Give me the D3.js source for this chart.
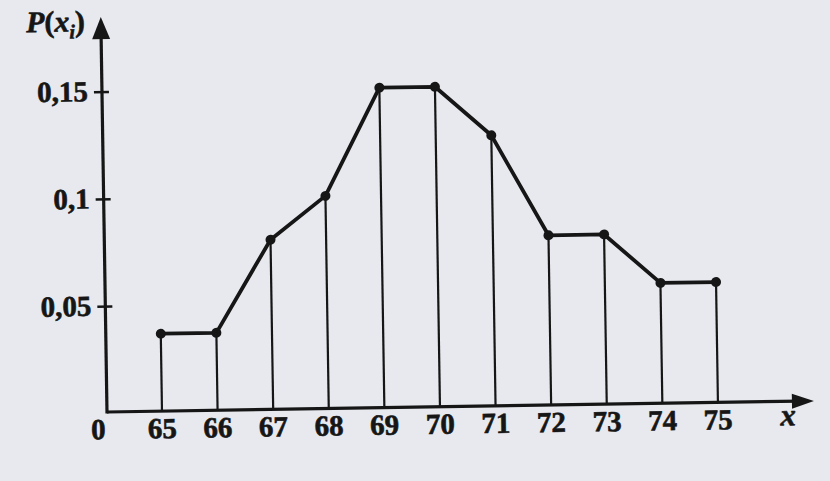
<!DOCTYPE html>
<html>
<head>
<meta charset="utf-8">
<script src="https://cdn.jsdelivr.net/npm/d3@7"></script>
<style>
  html, body { margin: 0; padding: 0; background: #e7e9ee; }
  svg { display: block; }
</style>
</head>
<body>
<svg id="chart" width="830" height="481"></svg>
<script>
// ---- data ----
const xValues = [65, 66, 67, 68, 69, 70, 71, 72, 73, 74, 75];
const pValues = [0.037, 0.037, 0.08, 0.1, 0.15, 0.15, 0.127, 0.08, 0.08, 0.057, 0.057];
const yTickValues = [0.05, 0.1, 0.15];
const yTickLabels = ["0,05", "0,1", "0,15"];
const xTickLabels = ["65", "66", "67", "68", "69", "70", "71", "72", "73", "74", "75"];

const W = 830, H = 481;
const ox = 107, oy = 412;         // origin of the axes
const ink = "#161616";
const font = "'Liberation Serif', 'Times New Roman', serif";

const svg = d3.select("#chart");
svg.append("rect").attr("width", W).attr("height", H).attr("fill", "#e7e9ee");

// the scanned figure is slightly rotated
const g = svg.append("g").attr("transform", `rotate(-0.9, ${ox}, ${oy})`);

const x = d3.scaleLinear().domain([65, 75]).range([162, 718]);
const y = d3.scaleLinear().domain([0, 0.15]).range([414, 92]);

// vertical lines from each point down to the axis
g.selectAll("line.drop").data(xValues).join("line")
  .attr("class", "drop")
  .attr("x1", d => x(d)).attr("x2", d => x(d))
  .attr("y1", (d, i) => y(pValues[i])).attr("y2", oy)
  .attr("stroke", ink).attr("stroke-width", 2.2);

// axes
g.append("line").attr("x1", ox).attr("x2", 800).attr("y1", oy).attr("y2", oy)
  .attr("stroke", ink).attr("stroke-width", 3.2);
g.append("path")
  .attr("d", `M${814},${oy} L${792},${oy - 7.5} L${792},${oy + 7.5} Z`)
  .attr("fill", ink);
g.append("line").attr("x1", ox).attr("x2", ox).attr("y1", oy + 1.6).attr("y2", 32)
  .attr("stroke", ink).attr("stroke-width", 3.2);
g.append("path")
  .attr("d", `M${ox},${17} L${ox - 9},${39} L${ox + 9},${39} Z`)
  .attr("fill", ink);

function styleText(sel, size) {
  return sel.attr("font-family", font).attr("font-weight", "bold")
    .attr("font-size", size).attr("fill", ink)
    .attr("stroke", ink).attr("stroke-width", 0.6);
}

// y ticks
const yt = g.selectAll("g.ytick").data(yTickValues).join("g").attr("class", "ytick");
yt.append("line")
  .attr("x1", ox - 8).attr("x2", ox + 7)
  .attr("y1", d => y(d)).attr("y2", d => y(d))
  .attr("stroke", ink).attr("stroke-width", 2.5);
styleText(yt.append("text"), 29)
  .attr("x", ox - 14).attr("y", d => y(d) + 9)
  .attr("text-anchor", "end")
  .text((d, i) => yTickLabels[i]);

// x tick labels
styleText(g.selectAll("text.xtick").data(xValues).join("text"), 29)
  .attr("class", "xtick")
  .attr("x", d => x(d)).attr("y", 439)
  .attr("text-anchor", "middle")
  .text((d, i) => xTickLabels[i]);

styleText(g.append("text"), 29).attr("x", 98).attr("y", 439).attr("text-anchor", "middle")
  .text("0");

// axis titles
styleText(g.append("text"), 31).attr("x", 788).attr("y", 436).attr("text-anchor", "middle")
  .attr("font-style", "italic").text("x");

const pt = styleText(g.append("text"), 30).attr("x", 91).attr("y", 31).attr("text-anchor", "end");
pt.append("tspan").attr("font-style", "italic").text("P");
pt.append("tspan").text("(");
pt.append("tspan").attr("font-style", "italic").text("x");
pt.append("tspan").attr("font-style", "italic").attr("font-size", 20).attr("dy", 7).text("i");
pt.append("tspan").attr("dy", -7).text(")");

// polygon line
const line = d3.line().x((d, i) => x(xValues[i])).y(d => y(d));
g.append("path").datum(pValues)
  .attr("d", line)
  .attr("fill", "none").attr("stroke", ink).attr("stroke-width", 3.8)
  .attr("stroke-linejoin", "round");

// points
g.selectAll("circle.pt").data(pValues).join("circle")
  .attr("class", "pt")
  .attr("cx", (d, i) => x(xValues[i])).attr("cy", d => y(d))
  .attr("r", 5).attr("fill", ink);
</script>
</body>
</html>
